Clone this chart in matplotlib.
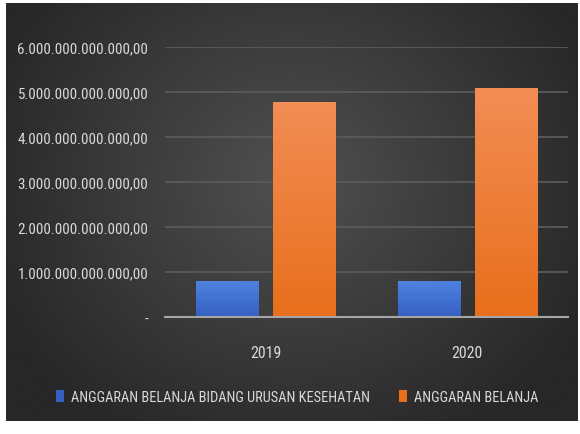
import numpy as np
import matplotlib
matplotlib.use("Agg")
import matplotlib.pyplot as plt
from matplotlib import font_manager as fm
from matplotlib.colors import LinearSegmentedColormap

years = ["2019", "2020"]
kesehatan = [0.80e12, 0.80e12]
belanja = [4.78e12, 5.09e12]
series_labels = ["ANGGARAN BELANJA BIDANG URUSAN KESEHATAN", "ANGGARAN BELANJA"]
yticks = [0, 1e12, 2e12, 3e12, 4e12, 5e12, 6e12]
ytick_labels = ["-" if v == 0 else f"{int(v):,}".replace(",", ".") + ",00" for v in yticks]

installed = {f.name for f in fm.fontManager.ttflist}
FONT = "DejaVu Sans"
for cand in ["Roboto Condensed", "Open Sans Condensed", "Archivo Narrow",
             "Barlow Semi Condensed", "Asap Condensed", "Barlow Condensed"]:
    if cand in installed:
        FONT = cand
        break
plt.rcParams["font.family"] = [FONT, "DejaVu Sans"]
TXT = "#d9d9d9"

W, H = 580, 435
fig = plt.figure(figsize=(5.8, 4.35), dpi=100, facecolor="white")
renderer = fig.canvas.get_renderer()

def fit_size(s, target_px, ref=10.0):
    t = fig.text(0, 0, s, fontsize=ref)
    w = t.get_window_extent(renderer).width
    t.remove()
    return ref * target_px / w

ysize = fit_size(ytick_labels[-1], 128)
xsize = fit_size("2019", 31)
lsize = fit_size(series_labels[1], 124)

# dark gradient panel
bg = fig.add_axes([6 / W, (H - 422) / H, 572 / W, 418 / H])
yy, xx = np.mgrid[-1:1:200j, -1:1:300j]
r = np.sqrt((xx * 1.0) ** 2 + ((yy + 0.15) * 0.8) ** 2)
val = np.clip(1 - r / 1.15, 0, 1)
bgcmap = LinearSegmentedColormap.from_list("bg", ["#272727", "#505050"])
bg.imshow(val, cmap=bgcmap, aspect="auto", extent=[0, 1, 0, 1], vmin=0, vmax=1)
bg.set_axis_off()

ax = fig.add_axes([165 / W, (H - 318) / H, 403 / W, 270 / H])
ax.set_facecolor("none")
x = np.arange(len(years))
bw = 0.308
off = 0.192

def grad_bars(xpos, vals, top, bottom, label):
    bars = ax.bar(xpos, vals, bw, color=bottom, label=label, zorder=3, linewidth=0)
    grad = np.linspace(0, 1, 100).reshape(-1, 1)
    cm = LinearSegmentedColormap.from_list("g", [bottom, top])
    for b in bars:
        x0, y0 = b.get_x(), b.get_y()
        im = ax.imshow(grad, cmap=cm, aspect="auto", origin="lower",
                       extent=[x0, x0 + b.get_width(), y0, y0 + b.get_height()],
                       zorder=4)
        im.set_clip_path(b)
    return bars

grad_bars(x - off, kesehatan, "#4f82e0", "#3560c2", series_labels[0])
grad_bars(x + off, belanja, "#f28d55", "#e86f1c", series_labels[1])

ax.set_xlim(-0.5, 1.5)
ax.set_ylim(0, 6e12)
ax.set_yticks(yticks)
ax.set_yticklabels(ytick_labels)
ax.set_xticks(x)
ax.set_xticklabels(years)
ax.tick_params(axis="y", length=0, pad=12, labelsize=ysize, labelcolor=TXT)
ax.tick_params(axis="x", length=0, pad=20, labelsize=xsize, labelcolor=TXT)
ax.grid(axis="y", color="#5a5a5a", linewidth=1.3, zorder=1)
for s in ["top", "right", "left"]:
    ax.spines[s].set_visible(False)
ax.spines["bottom"].set_color("#a6a6a6")
ax.spines["bottom"].set_linewidth(1.5)
ax.spines["bottom"].set_zorder(5)

h, l = ax.get_legend_handles_labels()
fig.legend(h, l, loc="center", bbox_to_anchor=(297 / W, 1 - 398 / H), ncol=2,
           frameon=False, fontsize=lsize, labelcolor=TXT, handlelength=0.55,
           handleheight=0.9, handletextpad=0.5, columnspacing=2.0)

fig.savefig("out.png", dpi=100, facecolor="white")
